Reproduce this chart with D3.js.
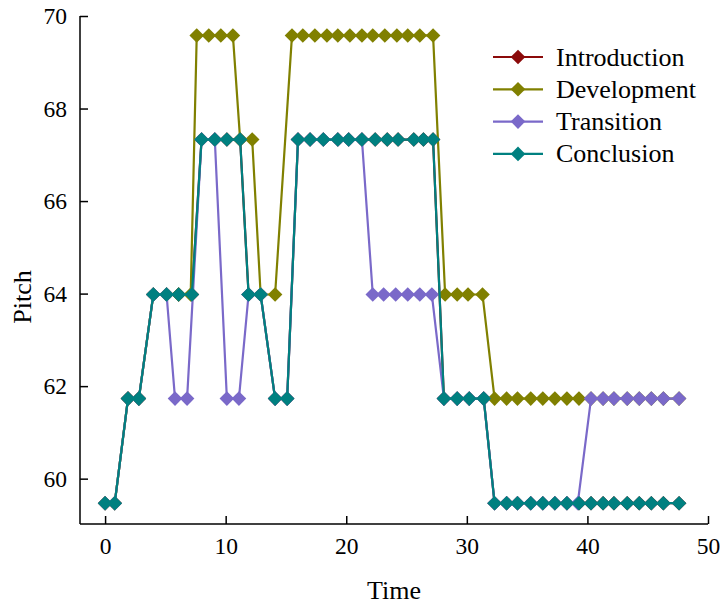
<!DOCTYPE html>
<meta charset="utf-8">
<style>
    body { margin: 0; background: #fff; }
    text { font-family: "Liberation Serif", "Times New Roman", serif; fill: #000; }
    .axis path, .axis line { stroke: #000; stroke-width: 1.5px; }
    .axis text { font-size: 23.5px; font-family: "Liberation Serif", serif; }
</style>
<svg id="chart" width="724" height="605"></svg>
<script src="https://d3js.org/d3.v7.min.js"></script>
<script>

    // series values
    var seriesNames = ["Introduction", "Development", "Transition", "Conclusion"];
    var seriesColors = ["#8b0a0a", "#808000", "#7a69c9", "#008080"];

    var conclusionTime = [0, 0.8, 1.9, 2.8, 4.0, 5.1, 6.1, 7.2, 8.0, 9.1, 10.1, 11.2, 11.9, 12.9, 14.1, 15.1,
        16.0, 17.0, 18.1, 19.3, 20.2, 21.3, 22.4, 23.4, 24.3, 25.6, 26.4, 27.2, 28.1, 29.2, 30.2, 31.4,
        32.3, 33.3, 34.2, 35.3, 36.3, 37.3, 38.3, 39.3, 40.3, 41.3, 42.2, 43.3, 44.3, 45.3, 46.3, 47.6];
    var conclusionPitch = [59.47, 59.47, 61.73, 61.73, 63.98, 63.98, 63.98, 63.98, 67.33, 67.33, 67.33, 67.33,
        63.98, 63.98, 61.73, 61.73, 67.33, 67.33, 67.33, 67.33, 67.33, 67.33, 67.33, 67.33, 67.33, 67.33, 67.33, 67.33,
        61.73, 61.73, 61.73, 61.73, 59.47, 59.47, 59.47, 59.47, 59.47, 59.47, 59.47, 59.47,
        59.47, 59.47, 59.47, 59.47, 59.47, 59.47, 59.47, 59.47];

    // introduction sits completely under the other lines
    var introductionTime = conclusionTime.slice();
    var introductionPitch = conclusionPitch.slice();

    var developmentTime = [0, 0.8, 1.9, 2.8, 4.0, 5.1, 6.1, 7.1, 7.6, 8.6, 9.6, 10.6, 11.2, 12.2, 12.9, 14.1,
        15.5, 16.4, 17.4, 18.4, 19.3, 20.3, 21.3, 22.2, 23.2, 24.2, 25.1, 26.1, 27.2, 28.2, 29.2, 30.1, 31.3,
        32.3, 33.3, 34.2, 35.3, 36.3, 37.3, 38.3, 39.3, 40.3, 41.3, 42.2, 43.3, 44.3, 45.3, 46.3, 47.6];
    var developmentPitch = [59.47, 59.47, 61.73, 61.73, 63.98, 63.98, 63.98, 63.98, 69.58, 69.58, 69.58, 69.58,
        67.33, 67.33, 63.98, 63.98, 69.58, 69.58, 69.58, 69.58, 69.58, 69.58, 69.58, 69.58, 69.58, 69.58, 69.58, 69.58, 69.58,
        63.98, 63.98, 63.98, 63.98, 61.73, 61.73, 61.73, 61.73, 61.73, 61.73, 61.73, 61.73,
        61.73, 61.73, 61.73, 61.73, 61.73, 61.73, 61.73, 61.73];

    var transitionTime = [0, 0.8, 1.9, 2.8, 4.0, 5.1, 5.8, 6.8, 8.0, 9.1, 10.1, 11.1, 11.9, 12.9, 14.1, 15.1,
        16.0, 17.0, 18.1, 19.3, 20.2, 21.3, 22.2, 23.1, 24.1, 25.1, 26.1, 27.1, 28.1, 29.2, 30.2, 31.4,
        32.3, 33.3, 34.2, 35.3, 36.3, 37.3, 38.3, 39.2, 40.3, 41.3, 42.2, 43.3, 44.3, 45.3, 46.3, 47.6];
    var transitionPitch = [59.47, 59.47, 61.73, 61.73, 63.98, 63.98, 61.73, 61.73, 67.33, 67.33, 61.73, 61.73,
        63.98, 63.98, 61.73, 61.73, 67.33, 67.33, 67.33, 67.33, 67.33, 67.33, 63.98, 63.98, 63.98, 63.98, 63.98, 63.98,
        61.73, 61.73, 61.73, 61.73, 59.47, 59.47, 59.47, 59.47, 59.47, 59.47, 59.47, 59.47,
        61.73, 61.73, 61.73, 61.73, 61.73, 61.73, 61.73, 61.73];

    var xTicks = [0, 10, 20, 30, 40, 50];
    var yTicks = [60, 62, 64, 66, 68, 70];

    function zipSeries(t, p) {
        return t.map(function(d, i) { return { t: d, p: p[i] }; });
    }

    var series = [
        zipSeries(introductionTime, introductionPitch),
        zipSeries(developmentTime, developmentPitch),
        zipSeries(transitionTime, transitionPitch),
        zipSeries(conclusionTime, conclusionPitch)
    ];

    var svg = d3.select("#chart");
    var margin = { left: 80, right: 16, top: 16, bottom: 81 },
        width = +svg.attr("width"),
        height = +svg.attr("height");

    var x = d3.scaleLinear().domain([-2.08, 50]).range([margin.left, width - margin.right]);
    var y = d3.scaleLinear().domain([59.02, 70]).range([height - margin.bottom, margin.top]);

    // axes, ticks pointing inward
    svg.append("g")
        .attr("class", "axis")
        .attr("transform", "translate(0," + (height - margin.bottom) + ")")
        .call(d3.axisBottom(x).tickValues(xTicks).tickSizeInner(-8).tickSizeOuter(0).tickPadding(13))
        .call(function(g) { g.select(".domain").attr("d", "M" + margin.left + ",0H" + (width - margin.right)); });

    svg.append("g")
        .attr("class", "axis")
        .attr("transform", "translate(" + margin.left + ",0)")
        .call(d3.axisLeft(y).tickValues(yTicks).tickSizeInner(-8).tickSizeOuter(0).tickPadding(13))
        .call(function(g) { g.select(".domain").attr("d", "M0," + margin.top + "V" + (height - margin.bottom)); });

    svg.append("text")
        .attr("x", (margin.left + width - margin.right) / 2)
        .attr("y", 599)
        .attr("text-anchor", "middle")
        .style("font-size", "26px")
        .text("Time");

    svg.append("text")
        .attr("transform", "translate(31,297) rotate(-90)")
        .attr("text-anchor", "middle")
        .style("font-size", "26px")
        .text("Pitch");

    var diamond = "M0,-7.3L7.3,0L0,7.3L-7.3,0Z";

    var line = d3.line()
        .x(function(d) { return x(d.t); })
        .y(function(d) { return y(d.p); });

    series.forEach(function(data, i) {
        var g = svg.append("g");
        g.append("path")
            .datum(data)
            .attr("fill", "none")
            .attr("stroke", seriesColors[i])
            .attr("stroke-width", 2.2)
            .attr("d", line);
        g.selectAll("path.pt")
            .data(data)
            .enter().append("path")
            .attr("class", "pt")
            .attr("d", diamond)
            .attr("fill", seriesColors[i])
            .attr("transform", function(d) { return "translate(" + x(d.t) + "," + y(d.p) + ")"; });
    });

    // legend
    var legend = svg.append("g")
        .selectAll("g")
        .data(seriesNames)
        .enter().append("g")
        .attr("transform", function(d, i) { return "translate(493," + (57 + i * 32.3) + ")"; });

    legend.append("line")
        .attr("x1", 0).attr("x2", 50)
        .attr("stroke", function(d, i) { return seriesColors[i]; })
        .attr("stroke-width", 2.2);

    legend.append("path")
        .attr("d", diamond)
        .attr("transform", "translate(25,0)")
        .attr("fill", function(d, i) { return seriesColors[i]; });

    legend.append("text")
        .attr("x", 63)
        .attr("dy", "0.33em")
        .style("font-size", "26px")
        .text(function(d) { return d; });

</script>
